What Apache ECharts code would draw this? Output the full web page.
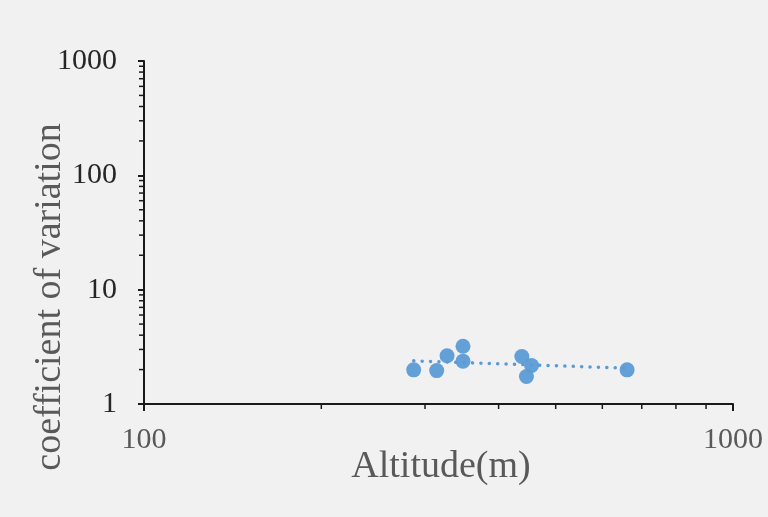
<!DOCTYPE html>
<html>
<head>
<meta charset="utf-8">
<script src="https://cdn.jsdelivr.net/npm/echarts@6/dist/echarts.min.js"></script>
<style>
  html, body { margin: 0; padding: 0; background: #f1f1f1; }
  #chart { width: 768px; height: 517px; }
</style>
</head>
<body>
<div id="chart"></div>
<script>
// altitude (m) and coefficient of variation
const altitude = [287, 314, 327, 348, 348, 438, 455, 446, 661];
const cv = [1.99, 1.96, 2.64, 3.20, 2.37, 2.60, 2.17, 1.74, 1.99];

// minor tick values on the log axes
const xMinorTicks = [200, 300, 400, 500, 600, 700, 800, 900];
const yMinorTicks = [2, 3, 4, 5, 6, 7, 8, 9, 20, 30, 40, 50, 60, 70, 80, 90, 200, 300, 400, 500, 600, 700, 800, 900];

const xRange = [100, 1000];
const yRange = [1, 1000];

// power trendline (least squares on log-log, like Excel)
function powerTrend(xs, ys) {
    const lx = xs.map(v => Math.log10(v)),
        ly = ys.map(v => Math.log10(v));
    const n = lx.length;
    const mx = lx.reduce((a, b) => a + b, 0) / n,
        my = ly.reduce((a, b) => a + b, 0) / n;
    let sxy = 0, sxx = 0;
    for (let i = 0; i < n; i++) {
        sxy += (lx[i] - mx) * (ly[i] - my);
        sxx += (lx[i] - mx) * (lx[i] - mx);
    }
    const b = sxy / sxx, a = my - b * mx;
    const x0 = Math.min(...xs), x1 = Math.max(...xs);
    return [x0, x1].map(x => [x, Math.pow(10, a + b * Math.log10(x))]);
}

const points = altitude.map((x, i) => [x, cv[i]]);
const trend = powerTrend(altitude, cv);

const minorData = xMinorTicks.map(v => [v, yRange[0], 0])
    .concat(yMinorTicks.map(v => [xRange[0], v, 1]));

const serif = '"Liberation Serif", "Times New Roman", serif';
const axisColor = '#1a1a1a';
const plainNum = v => String(Math.round(v));

const chart = echarts.init(document.getElementById('chart'));
chart.setOption({
    backgroundColor: '#f1f1f1',
    animation: false,
    grid: { left: 144, right: 35, top: 61, bottom: 113 },
    xAxis: {
        type: 'log',
        logBase: 10,
        min: xRange[0],
        max: xRange[1],
        axisLine: { lineStyle: { color: axisColor, width: 2 } },
        axisTick: { length: 7, lineStyle: { color: axisColor, width: 2 } },
        axisLabel: { fontFamily: serif, fontSize: 30, color: '#595959', margin: 21, formatter: plainNum },
        splitLine: { show: false }
    },
    yAxis: {
        type: 'log',
        logBase: 10,
        min: yRange[0],
        max: yRange[1],
        axisLine: { lineStyle: { color: axisColor, width: 2 } },
        axisTick: { length: 6, lineStyle: { color: axisColor, width: 2 } },
        axisLabel: { fontFamily: serif, fontSize: 30, color: '#262626', margin: 27, formatter: plainNum },
        splitLine: { show: false }
    },
    graphic: [
        {
            type: 'text',
            x: 441,
            y: 467,
            style: {
                text: 'Altitude(m)',
                font: '38px ' + serif,
                fill: '#595959',
                align: 'center',
                verticalAlign: 'middle'
            }
        },
        {
            type: 'text',
            x: 50,
            y: 297,
            rotation: Math.PI / 2,
            style: {
                text: 'coefficient of variation',
                font: '38px ' + serif,
                fill: '#595959',
                align: 'center',
                verticalAlign: 'middle'
            }
        }
    ],
    series: [
        {
            // minor ticks on both axes
            type: 'custom',
            silent: true,
            clip: false,
            data: minorData,
            renderItem: function (params, api) {
                const p = api.coord([api.value(0), api.value(1)]);
                const onX = api.value(2) === 0;
                return {
                    type: 'line',
                    shape: onX
                        ? { x1: p[0], y1: p[1], x2: p[0], y2: p[1] + 5 }
                        : { x1: p[0] - 5, y1: p[1], x2: p[0], y2: p[1] },
                    style: { stroke: axisColor, lineWidth: 1.5 }
                };
            }
        },
        {
            type: 'line',
            data: trend,
            symbol: 'none',
            silent: true,
            z: 1,
            lineStyle: { color: '#5b9bd5', width: 3.5, type: [0.1, 8.3], cap: 'round' }
        },
        {
            type: 'scatter',
            data: points,
            symbolSize: 15,
            z: 3,
            itemStyle: { color: '#5b9bd5', opacity: 0.95 }
        }
    ]
});
</script>
</body>
</html>
